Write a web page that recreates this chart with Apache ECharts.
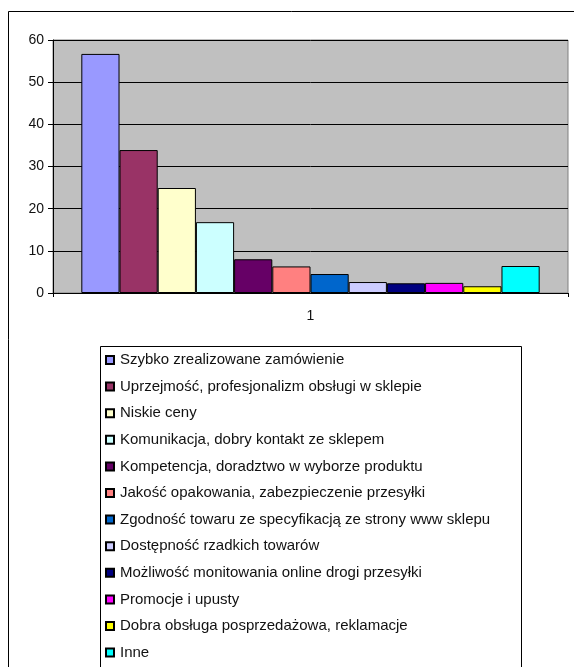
<!DOCTYPE html>
<html><head><meta charset="utf-8">
<script src="https://cdn.jsdelivr.net/npm/echarts@6/dist/echarts.min.js"></script>
<style>html,body{margin:0;padding:0;background:#fff}#c{width:574px;height:667px}</style>
</head><body><div id="c"></div>
<script>
const categories = ['1'];
const seriesNames = [
  'Szybko zrealizowane zamówienie',
  'Uprzejmość, profesjonalizm obsługi w sklepie',
  'Niskie ceny',
  'Komunikacja, dobry kontakt ze sklepem',
  'Kompetencja, doradztwo w wyborze produktu',
  'Jakość opakowania, zabezpieczenie przesyłki',
  'Zgodność towaru ze specyfikacją ze strony www sklepu',
  'Dostępność rzadkich towarów',
  'Możliwość monitowania online drogi przesyłki',
  'Promocje i upusty',
  'Dobra obsługa posprzedażowa, reklamacje',
  'Inne'
];
const seriesValues = [56.7, 33.9, 24.9, 16.8, 8.0, 6.3, 4.5, 2.6, 2.3, 2.4, 1.6, 6.4];
const colors = ['#9999FF','#993366','#FFFFCC','#CCFFFF','#660066','#FF8080','#0066CC','#CCCCFF','#000080','#FF00FF','#FFFF00','#00FFFF'];
const yTicks = {min: 0, max: 60, interval: 10};

const font = "'Liberation Sans', Arial, sans-serif";
const chart = echarts.init(document.getElementById('c'), null, {renderer: 'canvas'});
chart.setOption({
  animation: false,
  backgroundColor: '#fff',
  textStyle: {fontFamily: font},
  grid: {left: 53, top: 40, right: 6, bottom: 374, show: true, backgroundColor: '#C0C0C0', borderColor: '#808080', borderWidth: 1},
  xAxis: {
    type: 'category', data: categories,
    axisLine: {lineStyle: {color: '#000', width: 1}},
    axisTick: {show: true, length: 4, lineStyle: {color: '#000'}},
    axisLabel: {color: '#111', fontSize: 14, margin: 16, fontFamily: font}
  },
  yAxis: {
    type: 'value', min: yTicks.min, max: yTicks.max, interval: yTicks.interval,
    axisLine: {show: true, lineStyle: {color: '#000', width: 1}},
    axisTick: {show: true, length: 5, lineStyle: {color: '#000'}},
    axisLabel: {color: '#111', fontSize: 14, margin: 9, fontFamily: font},
    splitLine: {show: true, lineStyle: {color: '#000', width: 1}}
  },
  legend: {
    orient: 'vertical', left: 105, top: 352,
    itemWidth: 8, itemHeight: 8, itemGap: 10.6, icon: 'rect',
    padding: 0,
    textStyle: {fontSize: 15, color: '#111', fontFamily: font, lineHeight: 16, padding: [0,0,0,1]},
    data: seriesNames
  },
  series: seriesNames.map((n, i) => ({
    name: n, type: 'bar', data: [seriesValues[i]],
    barGap: '0%', barCategoryGap: '11%',
    itemStyle: {color: colors[i], borderColor: '#000', borderWidth: 1}
  })),
  graphic: [
    {type: 'rect', silent: true, shape: {x: 8.5, y: 11.5, width: 600, height: 700}, style: {fill: 'none', stroke: '#000', lineWidth: 1}, z: -10},
    {type: 'rect', silent: true, shape: {x: 100.5, y: 346.5, width: 421, height: 340}, style: {fill: 'none', stroke: '#000', lineWidth: 1}, z: -10}
  ]
});
</script></body></html>
